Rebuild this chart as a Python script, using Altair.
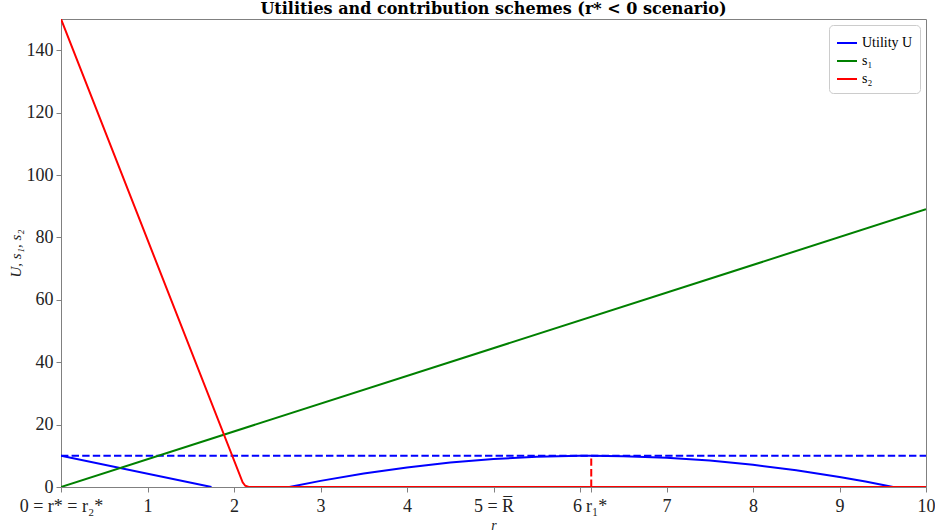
import altair as alt
import pandas as pd

# ---- data ----
# Utility U, left branch
u_left_r = [0.0, 1.74]
u_left_v = [10.0, 0.0]
# Utility U, right branch (concave, peak at r1*)
u_right_r = [2.64, 3.0, 3.5, 4.0, 4.5, 5.0, 5.5, 6.0, 6.13, 6.5, 7.0, 7.5, 8.0, 8.5, 9.0, 9.3, 9.62]
u_right_v = [0.0, 1.96, 4.32, 6.28, 7.82, 8.95, 9.67, 9.99, 10.0, 9.89, 9.38, 8.46, 7.13, 5.39, 3.24, 1.75, 0.0]
# s1 (linear)
s1_r = [0.0, 10.0]
s1_v = [0.0, 89.0]
# s2
s2_r = [0.0, 2.10, 2.13, 2.17, 10.0]
s2_v = [150.0, 1.5, 0.4, 0.0, 0.0]
# reference levels
u_bar = 10.0
r1_star = 6.13

x_ticks = [0, 1, 2, 3, 4, 5, 6, 6.13, 7, 8, 9, 10]
y_ticks = [0, 20, 40, 60, 80, 100, 120, 140]

SER = ["Utility U", "s\u2081", "s\u2082"]
COL = ["#0000ff", "#008000", "#ff0000"]

rows = []
for r, v in zip(u_left_r, u_left_v):
    rows.append({"r": r, "v": v, "series": SER[0], "seg": "a"})
for r, v in zip(u_right_r, u_right_v):
    rows.append({"r": r, "v": v, "series": SER[0], "seg": "b"})
u_df = pd.DataFrame(rows)
s1_df = pd.DataFrame({"r": s1_r, "v": s1_v, "series": SER[1]})
s2_df = pd.DataFrame({"r": s2_r, "v": s2_v, "series": SER[2]})
hline_df = pd.DataFrame({"r": [0, 10], "v": [u_bar, u_bar]})
vline_df = pd.DataFrame({"r": [r1_star], "v0": [0.0], "v1": [u_bar]})

FONT = "Liberation Serif"

label_expr = (
    "datum.value == 0 ? '0 = r* = r\u2082*' : "
    "datum.value == 5 ? '5 = R\u0305' : "
    "(datum.value > 6.1 && datum.value < 6.2) ? 'r\u2081*' : format(datum.value, 'd')"
)

xscale = alt.Scale(domain=[0, 10], nice=False, zero=False)
yscale = alt.Scale(domain=[0, 150], nice=False)
color = alt.Color(
    "series:N",
    scale=alt.Scale(domain=SER, range=COL),
    legend=alt.Legend(
        title=None,
        orient="top-right",
        offset=6,
        symbolType="stroke",
        symbolStrokeWidth=2,
        symbolSize=400,
        labelFont=FONT,
        labelFontSize=14,
        padding=7,
        rowPadding=0,
        strokeColor="#cccccc",
        cornerRadius=4,
        fillColor="white",
    ),
)

X = alt.X(
    "r:Q",
    scale=xscale,
    axis=alt.Axis(
        values=x_ticks,
        labelExpr=label_expr,
        labelOverlap=False,
        labelFlush=False,
        labelPadding=5,
        labelOffset={
            "condition": [
                {"test": "datum.value > 6.1 && datum.value < 6.2", "value": 5},
                {"test": "datum.value == 6", "value": -3},
            ],
            "value": 0,
        },
        title="r",
        titleFontStyle="italic",
        titleFontWeight="normal",
        titleFontSize=14,
        titlePadding=3,
        grid=False,
    ),
)
Y = alt.Y(
    "v:Q",
    scale=yscale,
    axis=alt.Axis(
        values=y_ticks,
        labelFlush=False,
        labelPadding=3,
        title="U, s\u2081, s\u2082",
        titleFontStyle="italic",
        titleFontWeight="normal",
        titleFontSize=15,
        titlePadding=3,
        grid=False,
    ),
)

blue = alt.Chart(u_df).mark_line(strokeWidth=2, clip=True).encode(
    x=X, y=Y, color=color, detail="seg:N"
)
green = alt.Chart(s1_df).mark_line(strokeWidth=2, clip=True).encode(x=X, y=Y, color=color)
red = alt.Chart(s2_df).mark_line(strokeWidth=2, clip=True).encode(x=X, y=Y, color=color)
hline = alt.Chart(hline_df).mark_line(
    strokeWidth=2, strokeDash=[7.4, 3.2], color="#0000ff", clip=True
).encode(x="r:Q", y="v:Q")
vline = alt.Chart(vline_df).mark_rule(
    strokeWidth=2, strokeDash=[7.4, 3.2], color="#ff0000"
).encode(x="r:Q", y="v0:Q", y2="v1:Q")

chart = (
    alt.layer(hline, blue, green, red, vline)
    .properties(
        width=865,
        height=468,
        autosize=alt.AutoSizeParams(type="none"),
        padding={"left": 61, "top": 19, "right": 9, "bottom": 44},
        title=alt.TitleParams(
            "Utilities and contribution schemes (r* < 0 scenario)",
            font="DejaVu Serif",
            fontSize=16,
            fontWeight="bold",
            anchor="middle",
            offset=2,
            color="black",
        ),
    )
    .configure_view(stroke="#808080", strokeWidth=1)
    .configure_axis(
        labelFont=FONT,
        titleFont=FONT,
        labelFontSize=18,
        labelColor="#222222",
        titleColor="#222222",
        domainColor="#808080",
        tickColor="#808080",
        tickSize=5,
    )
)

chart.save("out.html", embed_options={"renderer": "svg", "actions": False})
